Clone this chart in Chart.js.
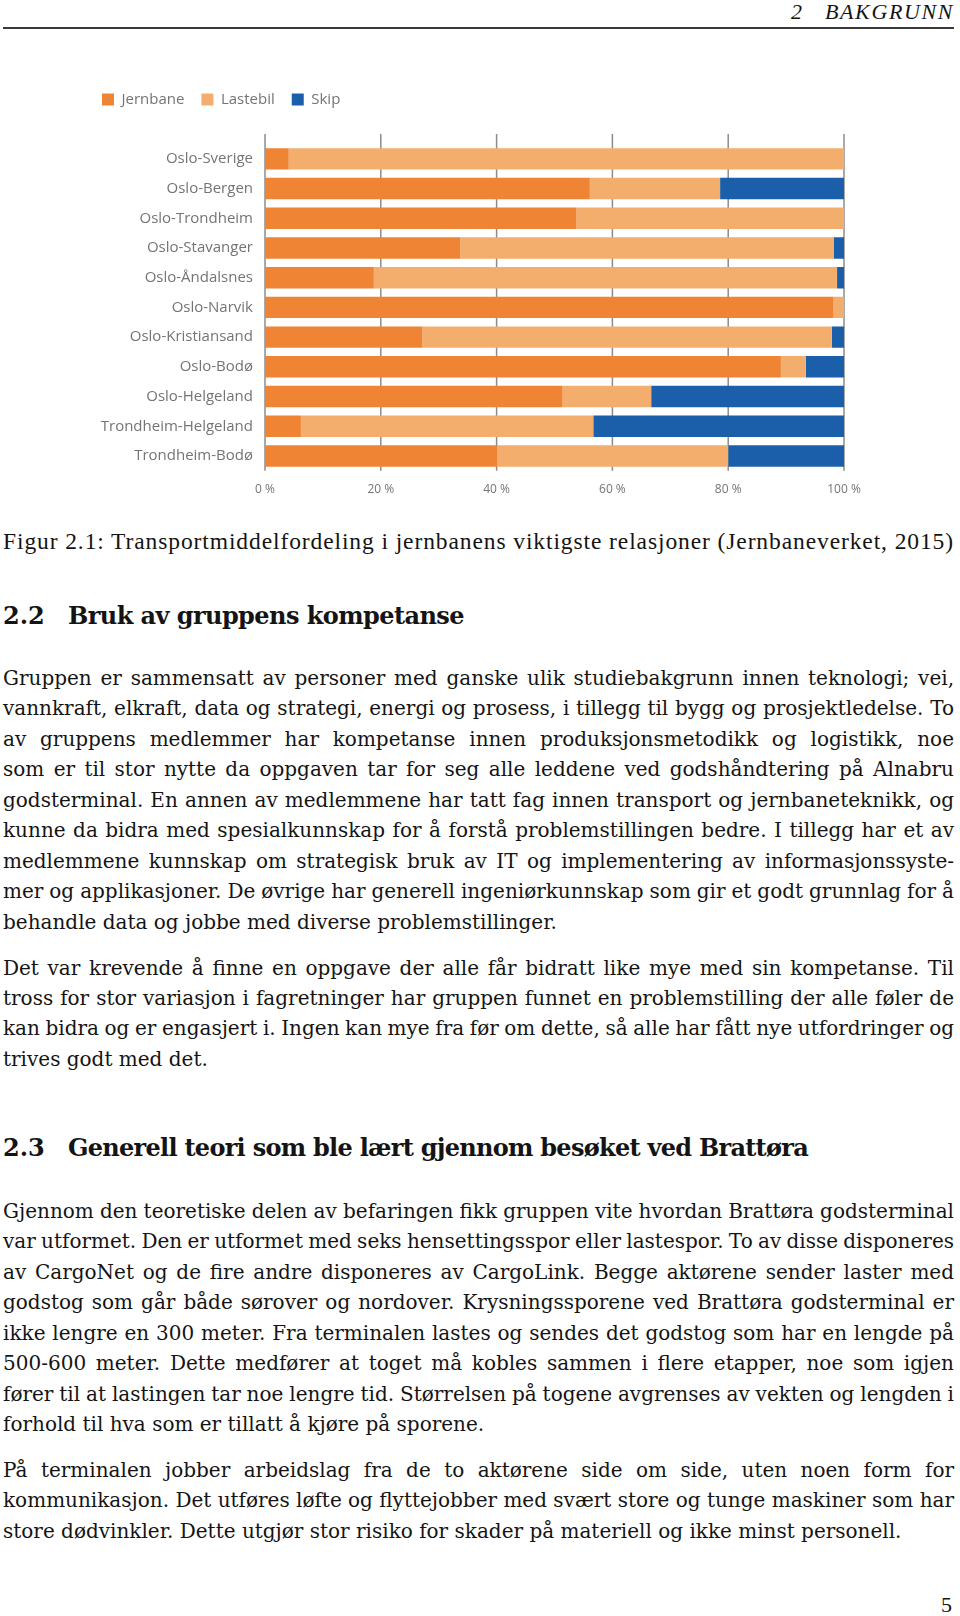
<!DOCTYPE html>
<html lang="no">
<head>
<meta charset="utf-8">
<title>Transportmiddelfordeling</title>
<script src="https://cdn.jsdelivr.net/npm/chart.js@4.4.1/dist/chart.umd.min.js"></script>
<style>
    html, body { margin: 0; padding: 0; background: #fff; }
    body { width: 960px; height: 1616px; position: relative; overflow: hidden; color: #141414; }
    .abs { position: absolute; white-space: nowrap; }
    .serif { font-family: "DejaVu Serif", serif; }
    .times { font-family: "Liberation Serif", serif; }

    #runhead { font-style: italic; font-size: 22px; line-height: 24px; top: 0; }
    #rule { left: 3px; top: 27px; width: 951px; height: 1.5px; background: #3a3a3a; }
    #chartBox { left: 85px; top: 70px; width: 790px; height: 440px; }

    #caption { left: 3px; top: 526px; font-size: 23.5px; line-height: 30px; }

    .head { font-weight: bold; font-size: 24px; line-height: 30px; }
    .head .num { position: absolute; left: 3px; }
    .head .ttl { position: absolute; left: 68px; }

    .para { position: absolute; left: 3px; width: 951px; font-size: 20px; }
    .ln { height: 30.45px; line-height: 30.45px; white-space: nowrap; }

    #pageno { left: 941px; top: 1592px; font-size: 22px; line-height: 26px; }
</style>
</head>
<body>

<div class="abs times" id="runhead">
    <span class="abs" style="left:791px">2</span>
    <span class="abs fit" data-w="129" style="left:825px">BAKGRUNN</span>
</div>
<div class="abs" id="rule"></div>

<div class="abs" id="chartBox"><canvas id="modalChart" width="790" height="440"></canvas></div>

<div class="abs times" id="caption"><span class="fit" data-w="951">Figur 2.1: Transportmiddelfordeling i jernbanens viktigste relasjoner (Jernbaneverket, 2015)</span></div>

<div class="abs serif head" style="top:601px; left:0; width:960px;">
    <span class="num">2.2</span><span class="ttl fit" data-w="396">Bruk av gruppens kompetanse</span>
</div>

<div class="para serif" style="top:663px">
    <div class="ln j"><span>Gruppen er sammensatt av personer med ganske ulik studiebakgrunn innen teknologi; vei,</span></div>
    <div class="ln j"><span>vannkraft, elkraft, data og strategi, energi og prosess, i tillegg til bygg og prosjektledelse. To</span></div>
    <div class="ln j"><span>av gruppens medlemmer har kompetanse innen produksjonsmetodikk og logistikk, noe</span></div>
    <div class="ln j"><span>som er til stor nytte da oppgaven tar for seg alle leddene ved godshåndtering på Alnabru</span></div>
    <div class="ln j"><span>godsterminal. En annen av medlemmene har tatt fag innen transport og jernbaneteknikk, og</span></div>
    <div class="ln j"><span>kunne da bidra med spesialkunnskap for å forstå problemstillingen bedre. I tillegg har et av</span></div>
    <div class="ln j"><span>medlemmene kunnskap om strategisk bruk av IT og implementering av informasjonssyste-</span></div>
    <div class="ln j"><span>mer og applikasjoner. De øvrige har generell ingeniørkunnskap som gir et godt grunnlag for å</span></div>
    <div class="ln"><span>behandle data og jobbe med diverse problemstillinger.</span></div>
</div>

<div class="para serif" style="top:952.5px">
    <div class="ln j"><span>Det var krevende å finne en oppgave der alle får bidratt like mye med sin kompetanse. Til</span></div>
    <div class="ln j"><span>tross for stor variasjon i fagretninger har gruppen funnet en problemstilling der alle føler de</span></div>
    <div class="ln j"><span>kan bidra og er engasjert i. Ingen kan mye fra før om dette, så alle har fått nye utfordringer og</span></div>
    <div class="ln"><span>trives godt med det.</span></div>
</div>

<div class="abs serif head" style="top:1132.5px; left:0; width:960px;">
    <span class="num">2.3</span><span class="ttl fit" data-w="740">Generell teori som ble lært gjennom besøket ved Brattøra</span>
</div>

<div class="para serif" style="top:1196px">
    <div class="ln j"><span>Gjennom den teoretiske delen av befaringen fikk gruppen vite hvordan Brattøra godsterminal</span></div>
    <div class="ln j"><span>var utformet. Den er utformet med seks hensettingsspor eller lastespor. To av disse disponeres</span></div>
    <div class="ln j"><span>av CargoNet og de fire andre disponeres av CargoLink. Begge aktørene sender laster med</span></div>
    <div class="ln j"><span>godstog som går både sørover og nordover. Krysningssporene ved Brattøra godsterminal er</span></div>
    <div class="ln j"><span>ikke lengre en 300 meter. Fra terminalen lastes og sendes det godstog som har en lengde på</span></div>
    <div class="ln j"><span>500-600 meter. Dette medfører at toget må kobles sammen i flere etapper, noe som igjen</span></div>
    <div class="ln j"><span>fører til at lastingen tar noe lengre tid. Størrelsen på togene avgrenses av vekten og lengden i</span></div>
    <div class="ln"><span>forhold til hva som er tillatt å kjøre på sporene.</span></div>
</div>

<div class="para serif" style="top:1455px">
    <div class="ln j"><span>På terminalen jobber arbeidslag fra de to aktørene side om side, uten noen form for</span></div>
    <div class="ln j"><span>kommunikasjon. Det utføres løfte og flyttejobber med svært store og tunge maskiner som har</span></div>
    <div class="ln"><span>store dødvinkler. Dette utgjør stor risiko for skader på materiell og ikke minst personell.</span></div>
</div>

<div class="abs times" id="pageno">5</div>

<script>
// Transportmiddelfordeling per relasjon (andel i prosent)
const routes = ['Oslo-Sverige', 'Oslo-Bergen', 'Oslo-Trondheim', 'Oslo-Stavanger', 'Oslo-Åndalsnes',
    'Oslo-Narvik', 'Oslo-Kristiansand', 'Oslo-Bodø', 'Oslo-Helgeland', 'Trondheim-Helgeland', 'Trondheim-Bodø'];
const jernbane = [4.1, 56.1, 53.8, 33.7, 18.8, 98.2, 27.2, 89.1, 51.4, 6.2, 40.1];
const lastebil = [95.9, 22.5, 46.2, 64.5, 80.0, 1.8, 70.7, 4.3, 15.3, 50.5, 39.9];
const skip = [0, 21.4, 0, 1.8, 1.2, 0, 2.1, 6.6, 33.3, 43.3, 20.0];
const percentTicks = ['0 %', '20 %', '40 %', '60 %', '80 %', '100 %'];

const COLORS = {
    jernbane: '#ee8434',
    lastebil: '#f3ae6e',
    skip: '#1b5fab',
    grid: '#8c8c8c',
    text: '#747474'
};

// Vertical grid lines that reach a bit above the first bar
const extendGrid = {
    id: 'extendGrid',
    beforeDatasetsDraw(chart) {
        const { ctx, chartArea, scales: { x } } = chart;
        ctx.save();
        ctx.strokeStyle = COLORS.grid;
        ctx.lineWidth = 1.5;
        x.ticks.forEach(tick => {
            const px = x.getPixelForValue(tick.value);
            ctx.beginPath();
            ctx.moveTo(px, chartArea.top - 10);
            ctx.lineTo(px, chartArea.bottom);
            ctx.stroke();
        });
        ctx.restore();
    }
};

// Extra space between legend and plot
const legendGap = {
    id: 'legendGap',
    beforeInit(chart) {
        const fitLegend = chart.legend.fit;
        chart.legend.fit = function fit() {
            fitLegend.bind(chart.legend)();
            this.height += 27;
        };
    }
};

function fitText() {
    // stretch justified lines to the text block width
    document.querySelectorAll('.ln.j').forEach(line => {
        const span = line.firstElementChild;
        const target = line.clientWidth;
        const w = span.getBoundingClientRect().width;
        const spaces = (span.textContent.match(/ /g) || []).length;
        if (spaces) span.style.wordSpacing = ((target - w) / spaces) + 'px';
    });
    // headings, caption etc. fitted with letter spacing
    document.querySelectorAll('.fit').forEach(el => {
        const target = parseFloat(el.dataset.w);
        const w = el.getBoundingClientRect().width;
        el.style.letterSpacing = ((target - w) / el.textContent.length) + 'px';
    });
}

function initChart() {
    const ctx = document.getElementById('modalChart');
    new Chart(ctx, {
        type: 'bar',
        data: {
            labels: routes,
            datasets: [
                { label: 'Jernbane', data: jernbane, backgroundColor: COLORS.jernbane },
                { label: 'Lastebil', data: lastebil, backgroundColor: COLORS.lastebil },
                { label: 'Skip', data: skip, backgroundColor: COLORS.skip }
            ]
        },
        options: {
            indexAxis: 'y',
            responsive: false,
            animation: false,
            categoryPercentage: 1,
            barPercentage: 0.72,
            layout: { padding: { top: 5, right: 31, left: 0, bottom: 0 } },
            scales: {
                x: {
                    stacked: true,
                    min: 0,
                    max: 100,
                    grid: { display: false, drawTicks: false },
                    border: { display: false },
                    ticks: {
                        stepSize: 20,
                        padding: 12,
                        color: COLORS.text,
                        font: { family: 'Open Sans', size: 12 },
                        callback: (value, i) => percentTicks[i]
                    },
                    afterFit(scale) { scale.height = 39.2; }
                },
                y: {
                    stacked: true,
                    grid: { display: false, drawTicks: false },
                    border: { display: false },
                    ticks: {
                        padding: 12,
                        color: COLORS.text,
                        font: { family: 'Open Sans', size: 15 }
                    },
                    afterFit(scale) { scale.width = 180; }
                }
            },
            plugins: {
                legend: {
                    position: 'top',
                    align: 'start',
                    labels: {
                        boxWidth: 12,
                        boxHeight: 12,
                        padding: 17,
                        color: COLORS.text,
                        font: { family: 'Open Sans', size: 15 }
                    }
                },
                tooltip: { enabled: false }
            }
        },
        plugins: [extendGrid, legendGap]
    });
}

document.addEventListener('DOMContentLoaded', () => {
    fitText();
    initChart();
});
</script>
</body>
</html>
